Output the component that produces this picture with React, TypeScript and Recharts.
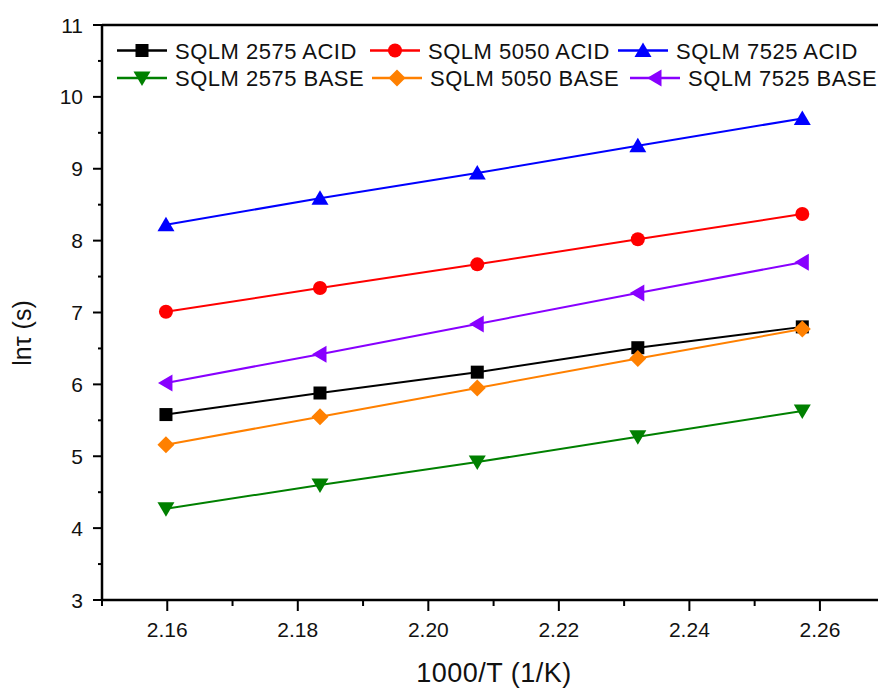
import React from 'react'
import { LineChart, Line, XAxis, YAxis, ReferenceLine } from 'recharts'

// 1000/T values (T = 463 ... 443 K)
const invTemp = [2.1598, 2.1834, 2.2075, 2.2321, 2.2573]

const acid2575 = [5.58, 5.88, 6.17, 6.51, 6.8]
const acid5050 = [7.01, 7.34, 7.67, 8.02, 8.37]
const acid7525 = [8.22, 8.59, 8.94, 9.32, 9.7]
const base2575 = [4.27, 4.6, 4.92, 5.27, 5.63]
const base5050 = [5.16, 5.55, 5.95, 6.36, 6.77]
const base7525 = [6.02, 6.42, 6.84, 7.27, 7.7]

const xTicks = [2.15, 2.16, 2.17, 2.18, 2.19, 2.2, 2.21, 2.22, 2.23, 2.24, 2.25, 2.26]
const yTicks = [3, 3.5, 4, 4.5, 5, 5.5, 6, 6.5, 7, 7.5, 8, 8.5, 9, 9.5, 10, 10.5, 11]

const FONT = '"Liberation Sans", Arial, sans-serif'

type Shape = 'square' | 'circle' | 'up' | 'down' | 'diamond' | 'left'

const series: { key: string; name: string; color: string; shape: Shape; values: number[] }[] = [
  { key: 'a2575', name: 'SQLM 2575 ACID', color: '#000000', shape: 'square', values: acid2575 },
  { key: 'a5050', name: 'SQLM 5050 ACID', color: '#ff0000', shape: 'circle', values: acid5050 },
  { key: 'a7525', name: 'SQLM 7525 ACID', color: '#0000ff', shape: 'up', values: acid7525 },
  { key: 'b2575', name: 'SQLM 2575 BASE', color: '#008000', shape: 'down', values: base2575 },
  { key: 'b5050', name: 'SQLM 5050 BASE', color: '#ff8000', shape: 'diamond', values: base5050 },
  { key: 'b7525', name: 'SQLM 7525 BASE', color: '#8800ff', shape: 'left', values: base7525 },
]

// legend item anchors (line start x, row centre y), page coordinates
const legendSpots = [
  [117, 50.5], [370, 50.5], [618, 50.5],
  [117, 78], [372, 78], [630, 78],
]

const rows = invTemp.map((x, i) => {
  const row: Record<string, number> = { x }
  series.forEach((s) => { row[s.key] = s.values[i] })
  return row
})

const Marker = ({ shape, cx, cy, color }: { shape: Shape; cx: number; cy: number; color: string }) => {
  switch (shape) {
    case 'square':
      return <rect x={cx - 6.5} y={cy - 6.5} width={13} height={13} fill={color} />
    case 'circle':
      return <circle cx={cx} cy={cy} r={7} fill={color} />
    case 'up':
      return <polygon points={`${cx},${cy - 8} ${cx + 8.5},${cy + 6.5} ${cx - 8.5},${cy + 6.5}`} fill={color} />
    case 'down':
      return <polygon points={`${cx},${cy + 8} ${cx + 8.5},${cy - 6.5} ${cx - 8.5},${cy - 6.5}`} fill={color} />
    case 'diamond':
      return <polygon points={`${cx},${cy - 8.5} ${cx + 8.5},${cy} ${cx},${cy + 8.5} ${cx - 8.5},${cy}`} fill={color} />
    default:
      return <polygon points={`${cx - 8},${cy} ${cx + 6.5},${cy - 8.5} ${cx + 6.5},${cy + 8.5}`} fill={color} />
  }
}

const XTick = (props: any) => {
  const { x, y, payload } = props
  const major = Math.round(payload.value * 100) % 2 === 0
  return (
    <g>
      <line x1={x} x2={x} y1={y} y2={y + (major ? 11 : 6)} stroke="#000" strokeWidth={2} />
      {major && (
        <text x={x} y={y + 37} textAnchor="middle" fontSize={21} fontFamily={FONT} fill="#111">
          {Number(payload.value).toFixed(2)}
        </text>
      )}
    </g>
  )
}

const YTick = (props: any) => {
  const { x, y, payload } = props
  const major = Number.isInteger(payload.value)
  return (
    <g>
      <line x1={x - (major ? 9 : 4)} x2={x} y1={y} y2={y} stroke="#000" strokeWidth={2} />
      {major && (
        <text x={x - 19} y={y + 7.5} textAnchor="end" fontSize={21} fontFamily={FONT} fill="#111">
          {payload.value}
        </text>
      )}
    </g>
  )
}

export default function App() {
  return (
    <div style={{ position: 'absolute', left: 0, top: 0, width: 878, height: 688, overflow: 'hidden', background: '#fff' }}>
      <LineChart width={878} height={688} data={rows} margin={{ top: 25, right: 0, bottom: 8, left: 42 }}>
        <XAxis
          type="number"
          dataKey="x"
          domain={[2.15, 2.2689]}
          allowDataOverflow
          ticks={xTicks}
          interval={0}
          height={80}
          tickSize={0}
          tickMargin={0}
          tickLine={false}
          tick={<XTick />}
          axisLine={{ stroke: '#000', strokeWidth: 2.5 }}
        />
        <YAxis
          type="number"
          domain={[3, 11]}
          ticks={yTicks}
          interval={0}
          width={60}
          tickSize={0}
          tickMargin={0}
          tickLine={false}
          tick={<YTick />}
          axisLine={{ stroke: '#000', strokeWidth: 2.5 }}
        />
        <ReferenceLine y={11} stroke="#000" strokeWidth={2.5} />
        {series.map((s) => (
          <Line
            key={s.key}
            dataKey={s.key}
            name={s.name}
            stroke={s.color}
            strokeWidth={2}
            isAnimationActive={false}
            activeDot={false}
            dot={(p: any) => <Marker key={`${s.key}-${p.index}`} shape={s.shape} cx={p.cx} cy={p.cy} color={s.color} />}
          />
        ))}
      </LineChart>
      <svg width={878} height={688} style={{ position: 'absolute', left: 0, top: 0, pointerEvents: 'none' }}>
        {series.map((s, i) => {
          const [lx, ly] = legendSpots[i]
          return (
            <g key={s.key}>
              <line x1={lx} x2={lx + 50} y1={ly} y2={ly} stroke={s.color} strokeWidth={2.5} />
              <Marker shape={s.shape} cx={lx + 25} cy={ly} color={s.color} />
              <text x={lx + 58} y={ly + 8} fontSize={22} letterSpacing={0.5} fontFamily={FONT} fill="#111">
                {s.name}
              </text>
            </g>
          )
        })}
        <text x={494} y={682} textAnchor="middle" fontSize={27} letterSpacing={0.5} fontFamily={FONT} fill="#111">
          1000/T (1/K)
        </text>
        <text
          x={0}
          y={0}
          transform="translate(22, 333) rotate(-90)"
          textAnchor="middle"
          dominantBaseline="central"
          fontSize={25}
          fontFamily={FONT}
          fill="#111"
        >
          lnτ (s)
        </text>
      </svg>
    </div>
  )
}
